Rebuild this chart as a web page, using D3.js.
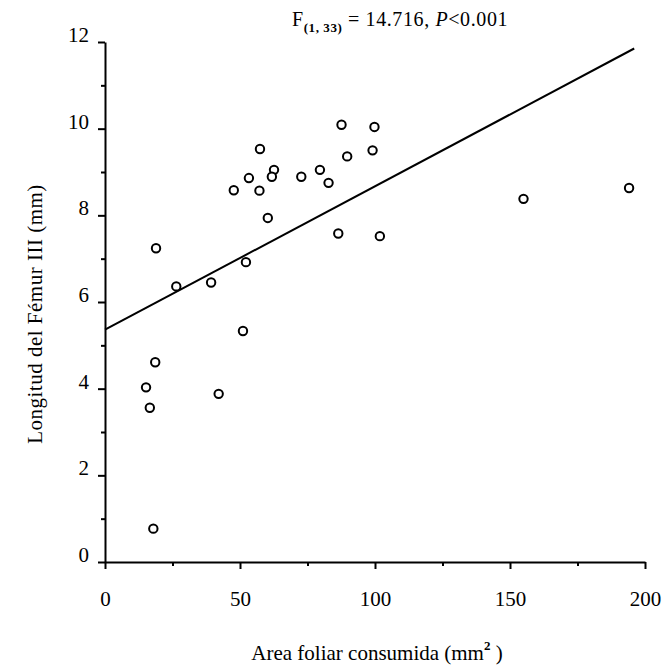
<!DOCTYPE html>
<html lang="es">
<head>
    <meta charset="UTF-8">
    <title>Longitud del Fémur III vs Area foliar consumida</title>
<script src="https://d3js.org/d3.v7.min.js"></script>
    <style>
        body{
            margin: 0;
            background: #fff;
            font-family: "Liberation Serif", "DejaVu Serif", serif;
        }
        .axis path, .axis line{
            stroke: #000;
            stroke-width: 2;
        }
        .axis text{
            font-family: "Liberation Serif", serif;
            font-size: 21px;
            fill: #000;
        }
    </style>
</head>
<body>
<svg width="669" height="668" id="canvas"></svg>
<script>

    // data
    let area_consumida = [87.6, 99.8, 57.4, 99.1, 89.7, 62.6, 53.3, 61.8, 72.7, 79.6,
        82.8, 47.7, 57.2, 60.3, 86.4, 101.8, 18.9, 26.4, 39.3, 52.2,
        51.1, 18.6, 15.2, 16.6, 42.1, 17.9, 155.0, 194.1];
    let longitud_femur = [10.09, 10.04, 9.53, 9.50, 9.36, 9.05, 8.86, 8.89, 8.89, 9.05,
        8.75, 8.58, 8.57, 7.94, 7.58, 7.52, 7.24, 6.36, 6.45, 6.92,
        5.33, 4.61, 4.03, 3.56, 3.88, 0.77, 8.38, 8.63];
    // fitted line (ends)
    let recta_x = [0, 196];
    let recta_y = [5.36, 11.85];

    let x_ticks = [0, 50, 100, 150, 200];
    let x_minor = [25, 75, 125, 175];
    let y_ticks = [0, 2, 4, 6, 8, 10, 12];
    let y_minor = [1, 3, 5, 7, 9, 11];

    let svg = d3.select("svg");

    let margins = {left: 105, top: 42, right: 24, bottom: 106};
    let fig_width = 669 - margins.left - margins.right;
    let fig_height = 668 - margins.top - margins.bottom;

    const figure = svg.append("g").attr("transform", `translate(${margins.left},${margins.top})`);

    let xScale = d3.scaleLinear().domain([0, 200]).range([0, fig_width]);
    let yScale = d3.scaleLinear().domain([0, 12]).range([fig_height, 0]);

    // X Axis
    let x_axis = d3.axisBottom(xScale).tickValues(x_ticks).tickSize(7).tickPadding(22).tickSizeOuter(0);
    figure.append("g").attr("class", "axis")
        .attr("transform", `translate(0,${fig_height})`)
        .call(x_axis);
    figure.append("g").attr("class", "axis")
        .attr("transform", `translate(0,${fig_height})`)
        .call(d3.axisBottom(xScale).tickValues(x_minor).tickSize(4).tickFormat("").tickSizeOuter(0))
        .select(".domain").remove();

    // Y Axis
    let y_axis = d3.axisLeft(yScale).tickValues(y_ticks).tickSize(7).tickPadding(9).tickSizeOuter(0);
    figure.append("g").attr("class", "axis").call(y_axis)
        .selectAll(".tick text").attr("dy", "-0.02em");
    figure.append("g").attr("class", "axis")
        .call(d3.axisLeft(yScale).tickValues(y_minor).tickSize(4).tickFormat("").tickSizeOuter(0))
        .select(".domain").remove();

    // regression line
    figure.append("line")
        .attr("x1", xScale(recta_x[0])).attr("y1", yScale(recta_y[0]))
        .attr("x2", xScale(recta_x[1])).attr("y2", yScale(recta_y[1]))
        .attr("stroke", "#000").attr("stroke-width", 2);

    // points
    figure.selectAll(".punto")
        .data(d3.zip(area_consumida, longitud_femur))
        .enter()
        .append("circle")
        .attr("class", "punto")
        .attr("cx", d => xScale(d[0]))
        .attr("cy", d => yScale(d[1]))
        .attr("r", 4.2)
        .attr("fill", "#fff")
        .attr("stroke", "#000")
        .attr("stroke-width", 2);

    // title
    let title = svg.append("text")
        .attr("x", 400).attr("y", 26)
        .attr("text-anchor", "middle")
        .attr("font-size", 20)
        .attr("letter-spacing", 0.6);
    title.append("tspan").text("F");
    title.append("tspan").attr("font-size", 13).attr("font-weight", "bold").attr("dy", 6).text("(1, 33)");
    title.append("tspan").attr("dy", -6).text(" = 14.716, ");
    title.append("tspan").attr("font-style", "italic").text("P");
    title.append("tspan").text("<0.001");

    // Labels
    let xlab = svg.append("text")
        .attr("x", 377).attr("y", 660)
        .attr("text-anchor", "middle")
        .attr("font-size", 21);
    xlab.append("tspan").text("Area foliar consumida (mm");
    xlab.append("tspan").attr("font-size", 13).attr("font-weight", "bold").attr("dy", -10).text("2");
    xlab.append("tspan").attr("dy", 10).text(" )");

    svg.append("text")
        .attr("transform", `translate(42,${margins.top + fig_height / 2 + 12}) rotate(-90)`)
        .attr("text-anchor", "middle")
        .attr("font-size", 21)
        .attr("letter-spacing", 0.5)
        .text("Longitud del Fémur III (mm)");

</script>
</body>
</html>
